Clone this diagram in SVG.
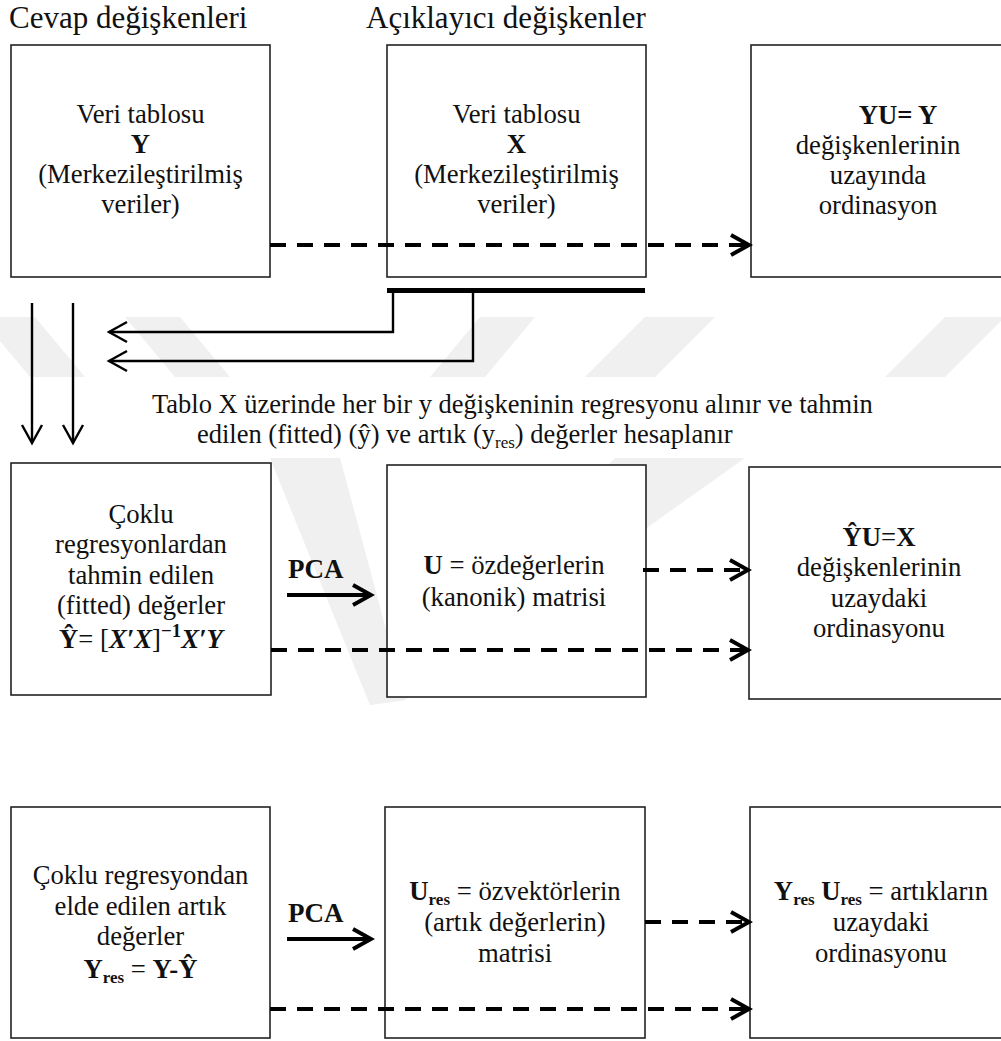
<svg xmlns="http://www.w3.org/2000/svg" width="1001" height="1041" viewBox="0 0 1001 1041">
<style>
text{font-family:"Liberation Serif","Times New Roman",serif;fill:#111;}
.hd{font-size:31px;}
.t{font-size:26.7px;text-anchor:middle;}
.m{font-size:26.5px;}
.b{font-weight:bold;}
.bi{font-weight:bold;font-style:italic;}
.sub{font-size:17px;font-weight:bold;}
.box{fill:none;stroke:#222;stroke-width:1.6;}
.dash{fill:none;stroke:#000;stroke-width:4;stroke-dasharray:16 11;}
.thin{fill:none;stroke:#000;stroke-width:2.4;}
.thick{fill:none;stroke:#000;stroke-width:4;}
.wm{fill:#f0f0f0;stroke:none;}
</style>
<defs>
<marker id="hd" markerUnits="userSpaceOnUse" viewBox="0 0 26 26" markerWidth="26" markerHeight="26" refX="22" refY="13" orient="auto">
<path d="M4,3 L22,13 L4,23" fill="none" stroke="#000" stroke-width="4" stroke-dasharray="none"/>
</marker>
<marker id="ht" markerUnits="userSpaceOnUse" viewBox="0 0 24 24" markerWidth="24" markerHeight="24" refX="20" refY="12" orient="auto">
<path d="M2,2 L20,12 L2,22" fill="none" stroke="#000" stroke-width="2.4"/>
</marker>
<marker id="hp" markerUnits="userSpaceOnUse" viewBox="0 0 26 26" markerWidth="26" markerHeight="26" refX="22" refY="13" orient="auto">
<path d="M4,3 L22,13 L4,23" fill="none" stroke="#000" stroke-width="4"/>
</marker>
</defs>
<rect width="1001" height="1041" fill="#fff"/>

<g id="watermark">
<polygon class="wm" points="-20,317 35,317 85,377 30,377"/>
<polygon class="wm" points="125,317 180,317 230,377 175,377"/>
<polygon class="wm" points="480,317 535,317 485,377 430,377"/>
<polygon class="wm" points="645,317 715,317 655,377 585,377"/>
<polygon class="wm" points="945,317 1005,317 945,377 885,377"/>
<polygon class="wm" points="270,458 340,458 405,700 370,705"/>
<polygon class="wm" points="615,458 745,458 405,700 370,705"/>
</g>

<g id="headers">
<text class="hd" x="9" y="28">Cevap değişkenleri</text>
<text class="hd" x="366" y="28">Açıklayıcı değişkenler</text>
</g>

<g id="node-Y">
<rect class="box" x="11" y="45" width="259" height="232"/>
<text class="t" x="140.5" y="123">Veri tablosu</text>
<text class="t b" x="140.5" y="153">Y</text>
<text class="t" x="140.5" y="183">(Merkezileştirilmiş</text>
<text class="t" x="140.5" y="213">veriler)</text>
</g>

<g id="node-X">
<rect class="box" x="387" y="45" width="259" height="232"/>
<text class="t" x="516.5" y="123">Veri tablosu</text>
<text class="t b" x="516.5" y="153">X</text>
<text class="t" x="516.5" y="183">(Merkezileştirilmiş</text>
<text class="t" x="516.5" y="213">veriler)</text>
</g>

<g id="node-YU">
<rect class="box" x="751" y="45" width="260" height="232"/>
<text class="t b" x="898" y="124">YU= Y</text>
<text class="t" x="878" y="154">değişkenlerinin</text>
<text class="t" x="878" y="184">uzayında</text>
<text class="t" x="878" y="214">ordinasyon</text>
</g>

<g id="node-regtext">
<text class="m" x="152" y="413">Tablo X üzerinde her bir y değişkeninin regresyonu alınır ve tahmin</text>
<text class="m" x="197" y="443">edilen (fitted) (ŷ) ve artık (y<tspan font-size="17" dy="5">res</tspan><tspan dy="-5">) değerler hesaplanır</tspan></text>
</g>

<g id="node-Yhat">
<rect class="box" x="11" y="463" width="260" height="232" fill="#fff"/>
<text class="t" x="141" y="523">Çoklu</text>
<text class="t" x="141" y="553">regresyonlardan</text>
<text class="t" x="141" y="584">tahmin edilen</text>
<text class="t" x="141" y="614">(fitted) değerler</text>
<text class="t" x="141" y="648"><tspan class="b">Ŷ</tspan>= [<tspan class="bi">X′X</tspan>]<tspan class="b" font-size="19" dy="-11">−1</tspan><tspan class="bi" dy="11">X′Y</tspan></text>
</g>

<g id="node-U">
<rect class="box" x="387" y="465" width="259" height="232" style="fill:#fff"/>
<text class="t" x="514" y="574"><tspan class="b">U</tspan> = özdeğerlerin</text>
<text class="t" x="514" y="606">(kanonik) matrisi</text>
</g>

<g id="node-YhatU">
<rect class="box" x="749" y="467" width="262" height="232"/>
<text class="t" x="879" y="546"><tspan class="b">ŶU</tspan>=<tspan class="b">X</tspan></text>
<text class="t" x="879" y="576">değişkenlerinin</text>
<text class="t" x="879" y="607">uzaydaki</text>
<text class="t" x="879" y="637">ordinasyonu</text>
</g>

<g id="node-Yres">
<rect class="box" x="11" y="807" width="259" height="231"/>
<text class="t" x="140.5" y="884">Çoklu regresyondan</text>
<text class="t" x="140.5" y="915">elde edilen artık</text>
<text class="t" x="140.5" y="945">değerler</text>
<text class="t" x="140.5" y="978"><tspan class="b">Y</tspan><tspan class="sub" dy="5">res</tspan><tspan dy="-5"> = </tspan><tspan class="b">Y-Ŷ</tspan></text>
</g>

<g id="node-Ures">
<rect class="box" x="385" y="807" width="260" height="231"/>
<text class="t" x="515" y="900"><tspan class="b">U</tspan><tspan class="sub" dy="5">res</tspan><tspan dy="-5"> = özvektörlerin</tspan></text>
<text class="t" x="515" y="931">(artık değerlerin)</text>
<text class="t" x="515" y="962">matrisi</text>
</g>

<g id="node-YresUres">
<rect class="box" x="750" y="807" width="261" height="231"/>
<text class="t" x="881" y="900"><tspan class="b">Y</tspan><tspan class="sub" dy="5">res</tspan><tspan class="b" dy="-5"> U</tspan><tspan class="sub" dy="5">res</tspan><tspan dy="-5"> = artıkların</tspan></text>
<text class="t" x="881" y="931">uzaydaki</text>
<text class="t" x="881" y="962">ordinasyonu</text>
</g>

<g id="labels">
<text class="b" font-size="27" x="288" y="578">PCA</text>
<text class="b" font-size="27" x="288" y="922">PCA</text>
</g>

<g id="connectors">
<path class="dash" d="M270,245 H749" marker-end="url(#hd)"/>
<rect x="387" y="288" width="258" height="5" fill="#000"/>
<path class="thin" d="M393,292 V332 H109" marker-end="url(#ht)"/>
<path class="thin" d="M473,292 V361 H109" marker-end="url(#ht)"/>
<path class="thin" d="M32,303 V443" marker-end="url(#ht)"/>
<path class="thin" d="M73,303 V443" marker-end="url(#ht)"/>
<path class="thick" d="M287,595 H371" marker-end="url(#hp)"/>
<path class="dash" d="M643,570 H748" marker-end="url(#hd)"/>
<path class="dash" d="M271,650 H748" marker-end="url(#hd)"/>
<path class="thick" d="M287,939 H371" marker-end="url(#hp)"/>
<path class="dash" d="M645,922 H749" marker-end="url(#hd)"/>
<path class="dash" d="M270,1009 H749" marker-end="url(#hd)"/>
</g>
</svg>
